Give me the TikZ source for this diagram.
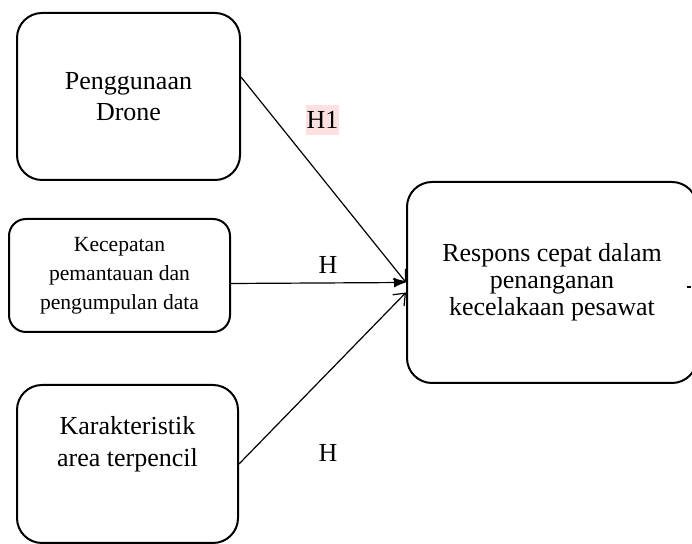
\documentclass[tikz,border=0pt]{standalone}
\usepackage{fontspec}
\setmainfont{Liberation Serif}
\usepackage{xcolor}
\usepackage{tikz}
\usetikzlibrary{arrows.meta}
\definecolor{hlpink}{RGB}{253,225,225}
\tikzstyle{var}=[rectangle,draw=black,line width=1pt,align=center,inner sep=0pt]
\tikzstyle{hyp}=[inner sep=0.5pt,font=\fontsize{13}{15}\selectfont]
\tikzstyle{path}=[line width=0.6pt]

\begin{document}
\begin{tikzpicture}[x=0.5pt,y=-0.5pt]
        \useasboundingbox (0,0) rectangle (692,544);
        \node at (128.5, 96.5) [var,rounded corners=12.5pt,minimum width=111.5pt,minimum height=83.5pt,font=\fontsize{13}{15.8}\selectfont] (drone) {Penggunaan\\Drone};
        \node at (119.5,275.5) [var,rounded corners=8.5pt,minimum width=110.5pt,minimum height=56.5pt,font=\fontsize{10.8}{14.5}\selectfont] (speed) {Kecepatan\\pemantauan dan\\pengumpulan data};
        \node at (127.5,464) [var,rounded corners=12.5pt,minimum width=110.5pt,minimum height=79pt] (remote) {};
        \node at (127.5,444) [font=\fontsize{13}{16}\selectfont,align=center] (remotetxt) {Karakteristik\\area terpencil};
        \node at (552,282.5) [var,rounded corners=12.5pt,minimum width=145pt,minimum height=100.5pt,font=\fontsize{13}{13.6}\selectfont] (resp) {Respons cepat dalam\\penanganan\\kecelakaan pesawat};
        \node at (322.5,120) [hyp,fill=hlpink,minimum height=15pt] (h1) {H1};
        \node at (328,265) [hyp] (h2) {H};
        \node at (328,453) [hyp] (h3) {H};
        \coordinate (tick) at (687,287);
        \draw [path,-{Straight Barb[length=5pt,width=8pt]}] ([yshift=9.75pt]drone.east) to (resp.west);
        \draw [path,-{Latex[length=6pt,width=5pt]}] ([yshift=-4pt]speed.east) to (resp.west);
        \draw [path,-{Straight Barb[length=5pt,width=8pt]}] (remote.east) to ([yshift=-5pt]resp.west);
        \draw [path] (tick) to ++(4,0);
      \end{tikzpicture}
\end{document}
